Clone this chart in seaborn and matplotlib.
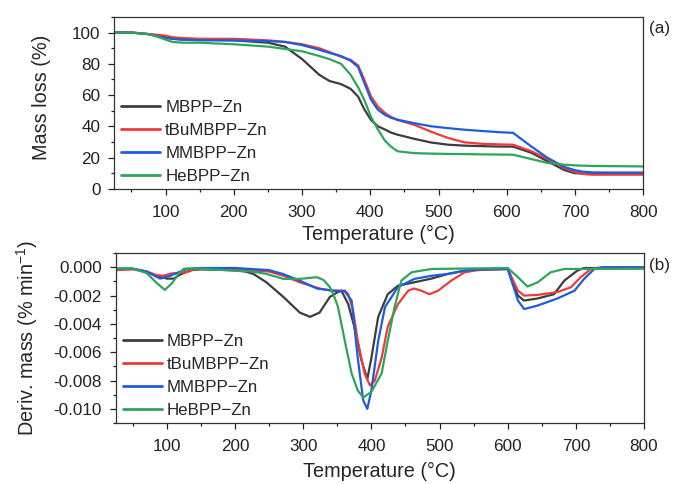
import numpy as np
import pandas as pd
import matplotlib
matplotlib.use("Agg")
import matplotlib.pyplot as plt
from matplotlib.ticker import MultipleLocator, FormatStrFormatter
import seaborn as sns

# ---------------- data ----------------
series_names = ["MBPP\u2212Zn", "tBuMBPP\u2212Zn", "MMBPP\u2212Zn", "HeBPP\u2212Zn"]
series_colors = ["#3d3d3d", "#f03a3a", "#1c5de0", "#2ea55a"]

# TGA (mass loss, %)
tga_T = [25, 50, 75, 90, 100, 110, 125, 150, 200, 250, 275, 300, 325, 340, 357, 371,
         382, 391, 401, 411, 421, 430, 440, 464, 489, 514, 538, 563, 590, 609, 636,
         660, 684, 699, 710, 725, 750, 800]
mass_MBPP = [100, 100, 99, 98, 97, 96, 95.5, 95.5, 95, 93.5, 91, 83, 73, 69, 67, 64,
             59, 51, 44, 40, 38, 36, 34.6, 32, 29.6, 28.2, 27.6, 27.3, 27, 27, 23,
             17.5, 12, 10, 9.8, 9.7, 9.7, 9.7]
mass_tBuMBPP = [100, 100, 99, 98.5, 98, 97, 96.5, 96, 96, 95, 94, 92.5, 90, 87.5, 84.5, 82.5,
                79, 70, 59, 52.6, 48.7, 46, 44, 41, 36.5, 32.5, 29.7, 28.8, 28.4, 28.2, 24,
                19, 13.3, 10.8, 9.5, 9, 9, 9]
mass_MMBPP = [100, 100, 99, 97.5, 96.5, 96, 95.5, 95, 95, 94.5, 94, 92, 89, 87, 85, 82,
              78, 68, 57, 50.6, 47.4, 45.5, 44.2, 42, 40, 38.8, 37.8, 37, 36.2, 35.8, 27,
              19.7, 14, 12, 11, 10.5, 10.4, 10.4]
mass_HeBPP = [100, 100, 99, 97, 95.5, 94, 93.5, 93.5, 92.5, 91, 89.5, 88, 85, 83, 80, 73,
              65, 57, 46, 38, 31, 27, 24, 22.8, 22.5, 22.3, 22.2, 22, 21.9, 21.8, 19,
              16.5, 15.4, 15, 14.8, 14.6, 14.5, 14.3]

# DTG (deriv. mass, % min^-1)
dtg_T_MBPP = [25, 50, 70, 85, 100, 110, 120, 135, 150, 200, 215, 227, 246, 271, 295, 310,
              324, 339, 349, 356, 366, 375, 385, 394, 400, 410, 424, 439, 463, 488, 512,
              537, 560, 600, 615, 624, 644, 668, 683, 702, 712, 800]
dtg_MBPP = [-0.0001, -0.0001, -0.0003, -0.0006, -0.0008, -0.0008, -0.0005, -0.0002, -0.00015,
            -0.0002, -0.0003, -0.00047, -0.00106, -0.0021, -0.0032, -0.0035, -0.0032, -0.0021,
            -0.0018, -0.00165, -0.0026, -0.0042, -0.0065, -0.0079, -0.0064, -0.0035, -0.0019,
            -0.0013, -0.00106, -0.0008, -0.00047, -0.00024, -0.00015, -0.00012, -0.0020,
            -0.00235, -0.0022, -0.0019, -0.00094, -0.00024, -0.00005, -0.00005]
dtg_T_tBuMBPP = [25, 50, 70, 85, 95, 105, 115, 129, 140, 150, 200, 250, 271, 295, 324, 341,
                 361, 366, 373, 380, 390, 398, 405, 415, 424, 439, 454, 463, 473, 485, 498,
                 517, 537, 556, 600, 615, 624, 644, 673, 693, 707, 722, 740, 800]
dtg_tBuMBPP = [-0.0002, -0.00015, -0.0003, -0.00055, -0.0006, -0.00045, -0.0004, -0.00035,
               -0.00015, -0.0001, -0.00015, -0.0003, -0.0006, -0.00106, -0.0015, -0.00165,
               -0.00165, -0.0019, -0.0030, -0.0052, -0.0075, -0.00835, -0.0080, -0.0064,
               -0.0042, -0.0026, -0.00165, -0.0015, -0.00165, -0.0019, -0.00165, -0.00094,
               -0.00035, -0.0002, -0.00012, -0.00165, -0.0020, -0.00195, -0.00175, -0.0014,
               -0.0007, -0.00012, 0.0, 0.0]
dtg_T_MMBPP = [25, 50, 70, 90, 105, 115, 130, 150, 200, 250, 270, 295, 320, 344, 361, 371,
               380, 388, 394, 400, 410, 420, 439, 463, 488, 512, 537, 560, 600, 615, 624,
               644, 673, 698, 712, 727, 740, 800]
dtg_MMBPP = [-0.0001, -0.0001, -0.0003, -0.0008, -0.0006, -0.0004, -0.0001, -0.00005,
             -0.00005, -0.0002, -0.00047, -0.00094, -0.0015, -0.00165, -0.0017, -0.00235,
             -0.0064, -0.0094, -0.0100, -0.0087, -0.0052, -0.0028, -0.0014, -0.00082,
             -0.0006, -0.00047, -0.00024, -0.00015, -0.00012, -0.00235, -0.00295, -0.0027,
             -0.0022, -0.00165, -0.00082, -0.00012, 0.0, 0.0]
dtg_T_HeBPP = [25, 50, 70, 85, 97, 108, 118, 125, 150, 200, 225, 246, 271, 295, 320, 330,
               339, 345, 351, 361, 371, 380, 388, 400, 415, 424, 434, 444, 459, 488, 600,
               615, 629, 644, 663, 683, 800]
dtg_HeBPP = [-0.0001, -0.0001, -0.0004, -0.0011, -0.0016, -0.0011, -0.0004, -0.0001, -0.0001,
             -0.00025, -0.0003, -0.00047, -0.00082, -0.00082, -0.0007, -0.0009, -0.0014,
             -0.0020, -0.0028, -0.0052, -0.0075, -0.0087, -0.0092, -0.0088, -0.0075, -0.0052,
             -0.0028, -0.00094, -0.00035, -0.00012, -0.00005, -0.0007, -0.00136, -0.00106,
             -0.00035, -0.00012, -0.0001]

# ---------------- tables ----------------
tga_df = pd.concat([
    pd.DataFrame({"T": tga_T, "v": m, "s": n})
    for m, n in zip([mass_MBPP, mass_tBuMBPP, mass_MMBPP, mass_HeBPP], series_names)
], ignore_index=True)
dtg_df = pd.concat([
    pd.DataFrame({"T": t, "v": d, "s": n})
    for t, d, n in zip([dtg_T_MBPP, dtg_T_tBuMBPP, dtg_T_MMBPP, dtg_T_HeBPP],
                       [dtg_MBPP, dtg_tBuMBPP, dtg_MMBPP, dtg_HeBPP], series_names)
], ignore_index=True)

# ---------------- style ----------------
sns.set_style("ticks")
plt.rcParams["font.family"] = ["Liberation Sans", "DejaVu Sans"]
plt.rcParams["mathtext.fontset"] = "custom"
plt.rcParams["mathtext.rm"] = "Liberation Sans"
plt.rcParams["mathtext.it"] = "Liberation Sans:italic"
plt.rcParams["axes.unicode_minus"] = True

palette = dict(zip(series_names, series_colors))
fig = plt.figure(figsize=(6.73, 4.84), dpi=100)
ax1 = fig.add_axes([0.170, 0.610, 0.786, 0.355])
ax2 = fig.add_axes([0.172, 0.126, 0.785, 0.351])

for ax, df in [(ax1, tga_df), (ax2, dtg_df)]:
    sns.lineplot(data=df, x="T", y="v", hue="s", palette=palette, ax=ax,
                 linewidth=1.6, sort=False, estimator=None)
    ax.set_xlim(25, 800)
    ax.xaxis.set_major_locator(MultipleLocator(100))
    ax.xaxis.set_minor_locator(MultipleLocator(50))
    ax.tick_params(axis="both", which="major", direction="out", length=4.5, width=0.9,
                   labelsize=12.3, colors="#222222")
    ax.tick_params(axis="x", which="major", pad=7)
    ax.tick_params(axis="y", which="major", pad=5.5)
    ax.tick_params(axis="both", which="minor", direction="out", length=2.5, width=0.9,
                   colors="#222222")
    ax.tick_params(top=False, right=False, which="both")
    for sp in ax.spines.values():
        sp.set_color("#333333")
        sp.set_linewidth(0.9)
    leg = ax.legend(loc="lower left", frameon=False, fontsize=12.2, handlelength=2.3,
                    handletextpad=0.3, labelspacing=0.48, borderaxespad=0.0,
                    bbox_to_anchor=(0.0, -0.012))
    for lh in leg.get_lines():
        lh.set_linewidth(2.0)

ax1.set_xlabel("Temperature (\u00b0C)", fontsize=14.3, labelpad=4)
ax2.set_xlabel("Temperature (\u00b0C)", fontsize=14.3, labelpad=6)

ax1.set_ylim(0, 110)
ax1.yaxis.set_major_locator(MultipleLocator(20))
ax1.yaxis.set_minor_locator(MultipleLocator(10))
ax1.set_ylabel("Mass loss (%)", fontsize=14.3, va="center")
ax1.yaxis.set_label_coords(-0.138, 0.53)

ax2.set_ylim(-0.011, 0.001)
ax2.yaxis.set_major_locator(MultipleLocator(0.002))
ax2.yaxis.set_minor_locator(MultipleLocator(0.001))
ax2.yaxis.set_major_formatter(FormatStrFormatter("%.3f"))
ax2.set_ylabel(r"Deriv. mass (% min$^{-1}$)", fontsize=14.3, va="center")
ax2.yaxis.set_label_coords(-0.167, 0.5)

fig.text(0.964, 0.942, "(a)", fontsize=12.3, ha="left", va="center")
fig.text(0.964, 0.452, "(b)", fontsize=12.3, ha="left", va="center")

fig.savefig("out.png", dpi=100, facecolor="white")
